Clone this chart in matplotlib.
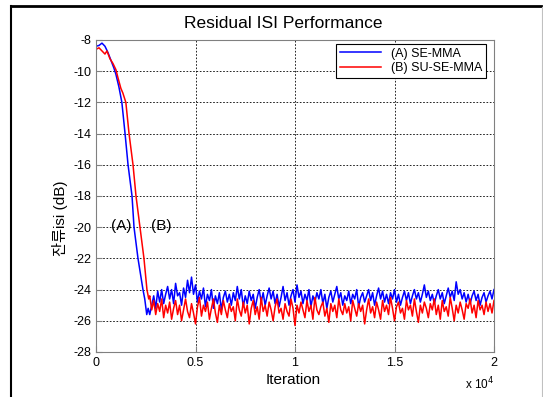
import numpy as np
import matplotlib
matplotlib.use("Agg")
import matplotlib.pyplot as plt
from matplotlib.lines import Line2D

plt.rcParams['font.family'] = ['Liberation Sans', 'Noto Sans CJK KR', 'DejaVu Sans']
plt.rcParams['axes.unicode_minus'] = False

# transient part (iteration, dB)
blue_iter = [0, 150, 300, 450, 600, 750, 900, 1000, 1150, 1300, 1460, 1610, 1810,
             1910, 2110, 2360, 2450, 2550, 2620]
blue_tr = [-8.4, -8.35, -8.2, -8.4, -8.8, -9.3, -9.8, -10.2, -11.0, -12.0, -14.0,
           -16.0, -18.0, -20.0, -22.0, -24.0, -24.6, -25.6, -25.2]
red_iter = [0, 150, 300, 450, 550, 700, 850, 1000, 1100, 1250, 1350, 1500, 1660,
            1860, 2010, 2210, 2410, 2560, 2650]
red_tr = [-8.6, -8.5, -8.7, -8.9, -8.7, -9.2, -9.5, -9.9, -10.4, -11.1, -11.4, -12.0,
          -14.0, -16.0, -18.0, -20.0, -22.0, -24.0, -24.6]

# steady state, every 100 iterations from 2700 to 20000
ss_start, ss_step = 2700, 100
blue_ss = [
    -25.6, -25.0, -24.4, -25.2, -24.1, -24.8, -24.0, -24.9, -24.3, -23.8,
    -24.6, -24.0, -24.9, -23.6, -24.4, -24.2, -25.0, -23.9, -24.5, -23.4,
    -24.2, -23.2, -24.3, -23.7, -24.8, -24.1, -24.6, -23.9, -25.1, -24.3,
    -24.7, -24.0, -25.2, -24.4, -24.9, -24.2, -25.3, -24.5, -24.1, -24.8,
    -24.3, -25.0, -24.2, -24.7, -23.8, -24.6, -24.0, -25.1, -24.4, -24.9,
    -24.1, -24.7, -24.3, -25.2, -24.5, -24.0, -24.8, -24.2, -25.0, -24.4,
    -23.9, -24.6, -24.1, -24.9, -24.3, -25.1, -24.5, -23.8, -24.7, -24.2,
    -25.0, -24.4, -24.0, -24.8, -23.7, -24.5, -24.1, -24.9, -24.3, -24.7,
    -24.0, -25.1, -24.4, -24.8, -24.2, -24.6, -24.0, -24.9, -24.3, -25.2,
    -24.5, -24.1, -24.8, -24.3, -23.8, -24.6, -24.2, -25.0, -24.4, -24.7,
    -24.1, -24.9, -24.3, -24.6, -24.0, -25.1, -24.5, -24.2, -24.8, -24.4,
    -24.0, -24.7, -24.2, -25.0, -24.4, -23.9, -24.6, -24.1, -24.8, -24.3,
    -24.9, -24.2, -24.6, -24.0, -24.8, -24.3, -25.0, -24.5, -24.1, -24.7,
    -24.2, -24.9, -24.4, -24.0, -24.6, -24.2, -24.8, -24.3, -23.7, -24.5,
    -24.1, -24.7, -24.3, -24.9, -24.4, -24.0, -24.6, -24.2, -24.9, -24.4,
    -23.9, -24.5, -24.1, -24.7, -23.5, -24.3, -24.0, -24.6, -24.2, -24.8,
    -24.3, -24.9, -24.4, -24.1, -24.7, -24.3, -25.0, -24.5, -24.2, -24.8,
    -24.4, -24.1, -24.6, -24.0]
red_ss = [
    -24.4, -25.3, -24.7, -25.6, -24.9, -25.4, -24.6, -25.8, -25.0, -25.5,
    -24.8, -25.9, -25.2, -24.7, -25.6, -25.0, -26.0, -25.3, -24.6, -25.4,
    -25.8, -24.9, -25.5, -26.2, -25.1, -24.5, -25.7, -25.0, -25.4, -24.8,
    -25.9, -25.2, -24.6, -25.5, -26.1, -25.0, -25.6, -24.7, -25.3, -25.8,
    -24.9, -25.4, -25.1, -26.0, -24.6, -25.3, -25.7, -24.8, -25.5, -25.0,
    -26.2, -25.2, -24.7, -25.6, -25.1, -25.9, -24.5, -25.4, -25.0, -25.7,
    -24.8, -25.3, -26.0, -25.1, -24.6, -25.5, -25.2, -25.9, -24.9, -25.4,
    -25.7, -24.6, -25.2, -26.3, -25.0, -25.5, -24.8, -25.3, -25.8, -24.7,
    -25.4, -25.0, -25.9, -24.5, -25.3, -25.6, -25.1, -24.8, -25.7, -25.2,
    -26.1, -24.9, -25.4, -25.0, -25.8, -24.6, -25.3, -25.6, -24.9, -25.5,
    -25.1, -26.0, -24.7, -25.2, -25.7, -24.9, -25.4, -25.0, -26.2, -25.3,
    -24.6, -25.5, -25.1, -25.8, -24.8, -25.3, -25.9, -24.7, -25.4, -25.0,
    -25.6, -24.5, -25.2, -26.0, -25.1, -24.8, -25.5, -25.2, -25.9, -24.7,
    -25.3, -25.0, -25.7, -24.6, -25.4, -26.1, -25.0, -25.5, -24.8, -25.2,
    -25.8, -24.9, -25.3, -24.6, -25.6, -25.0, -25.9, -24.7, -25.4, -25.1,
    -25.7, -24.5, -25.2, -26.0, -25.0, -25.5, -24.8, -25.3, -25.9, -24.9,
    -25.2, -24.6, -25.5, -25.0, -25.8, -24.7, -25.3, -25.0, -25.6, -24.8,
    -25.4, -24.9, -25.5, -24.7]

ss_iter = [ss_start + i * ss_step for i in range(len(blue_ss))]
blue_x = blue_iter + ss_iter
blue_y = blue_tr + blue_ss
red_x = red_iter + ss_iter
red_y = red_tr + red_ss

W, H = 543, 397
fig = plt.figure(figsize=(W / 100, H / 100), dpi=100)
ax = fig.add_axes([96 / W, 1 - 352 / H, (494 - 96) / W, (352 - 40) / H])

ax.plot(blue_x, blue_y, color='#0000ff', lw=1.1, label='(A) SE-MMA')
ax.plot(red_x, red_y, color='#ff0000', lw=1.1, label='(B) SU-SE-MMA')

ax.set_xlim(0, 20000)
ax.set_ylim(-28, -8)
ax.set_xticks([0, 5000, 10000, 15000, 20000])
ax.set_xticklabels(['0', '0.5', '1', '1.5', '2'])
ax.set_yticks(range(-28, -7, 2))
ax.grid(True, color='black', linestyle=(0, (2, 2)), lw=0.6)
for s in ax.spines.values():
    s.set_color('#808080')
ax.tick_params(direction='in', colors='#808080', labelcolor='black', labelsize=9, length=4)

ax.text(1250, -19.9, '(A)', fontsize=11, ha='center', va='center')
ax.text(3300, -19.9, '(B)', fontsize=11, ha='center', va='center')

leg = ax.legend(loc='upper right', bbox_to_anchor=((486 - 96) / 398, (352 - 44) / 312),
                fontsize=9, handlelength=3.3, borderaxespad=0, fancybox=False,
                framealpha=1, borderpad=0.3, labelspacing=0.2)
leg.get_frame().set_edgecolor('black')
leg.get_frame().set_linewidth(0.8)

fig.text(283 / W, 1 - 24 / H, 'Residual ISI Performance', fontsize=12.5,
         ha='center', va='center')
fig.text(293 / W, 1 - 380 / H, 'Iteration', fontsize=11, ha='center', va='center')
fig.text(465 / W, 1 - 384 / H, r'x 10$^4$', fontsize=8.5, ha='left', va='center')
fig.text(60 / W, 1 - 218 / H, '잔류isi (dB)', fontsize=11, rotation=90,
         ha='center', va='center')

# page frame
fig.add_artist(Line2D([11 / W, 11 / W], [0, 1 - 6 / H], color='black', lw=1.5))
fig.add_artist(Line2D([11 / W, 541 / W], [1 - 6 / H, 1 - 6 / H], color='black', lw=2))
fig.add_artist(Line2D([542 / W, 542 / W], [0, 1 - 7 / H], color='#c0c0c0', lw=0.8))

fig.savefig('out.png', dpi=100)
